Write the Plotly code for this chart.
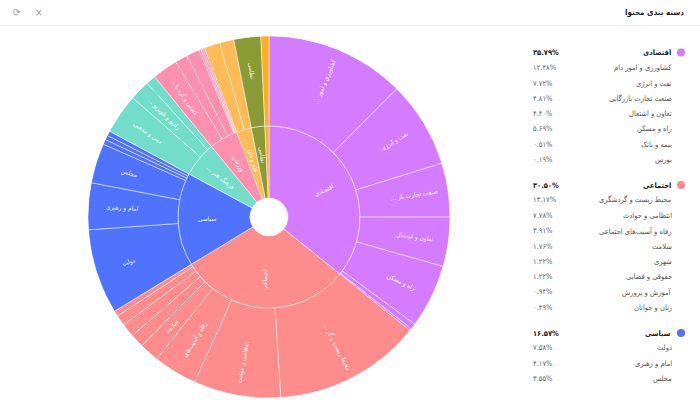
import math
import plotly.graph_objects as go

group_names = ["اقتصادی", "اجتماعی", "سیاسی", "فرهنگ هنر ...", "ورزشی", "علم و دان ...", "نظامی", ""]
group_values = [35.79, 30.50, 16.57, 6.25, 5.10, 2.67, 2.40, 0.72]
group_colors = ["#D37CFF", "#FF8C8C", "#5073FF", "#72DDC8", "#FF8FAE", "#FFBB55", "#8A9A35", "#FBB024"]

leaf_names = [
    ["کشاورزی و امور ...", "نفت و انرژی", "صنعت تجارت باز ...", "تعاون و اشتغال", "راه و مسکن", "", ""],
    ["محیط زیست و گر ...", "انتظامی و حوادث", "رفاه و آسیب‌های ...", "سلامت", "", "", "", ""],
    ["دولت", "امام و رهبری", "مجلس", "", "", ""],
    ["دینی و مذهبی", "رادیو و تلویزیو ...", ""],
    ["کشتی و کره پا ...", "", "", "", "", ""],
    ["", ""],
    ["نظامی"],
    [""],
]
leaf_values = [
    [12.48, 7.72, 4.81, 4.40, 5.69, 0.51, 0.19],
    [13.17, 7.78, 3.91, 1.76, 1.22, 1.22, 0.94, 0.49],
    [7.58, 4.17, 3.55, 0.45, 0.40, 0.42],
    [3.58, 1.80, 0.87],
    [2.28, 1.11, 1.19, 0.18, 0.17, 0.17],
    [1.40, 1.27],
    [2.40],
    [0.72],
]

panel_groups = [
    ("اقتصادی", 35.79, "#D37CFF",
     ["کشاورزی و امور دام", "نفت و انرژی", "صنعت تجارت بازرگانی", "تعاون و اشتغال", "راه و مسکن", "بیمه و بانک", "بورس"],
     [12.48, 7.72, 4.81, 4.40, 5.69, 0.51, 0.19], 52.5),
    ("اجتماعی", 30.50, "#FF8C8C",
     ["محیط زیست و گردشگری", "انتظامی و حوادث", "رفاه و آسیب‌های اجتماعی", "سلامت", "شهری", "حقوقی و قضایی", "آموزش و پرورش", "زنان و جوانان"],
     [13.17, 7.78, 3.91, 1.76, 1.22, 1.22, 0.94, 0.49], 185),
    ("سیاسی", 16.57, "#5073FF",
     ["دولت", "امام و رهبری", "مجلس"],
     [7.58, 4.17, 3.55], 333),
]
row_step = 15.25
title_text = "دسته بندی محتوا"

W, H = 700, 400
CX, CY, R = 269, 217, 181
HOLE, MID = 19 / R, 91 / R
FONT = "DejaVu Sans Condensed, DejaVu Sans"


def fa(v):
    return f"{v:.2f}%".translate(str.maketrans("0123456789", "۰۱۲۳۴۵۶۷۸۹"))


def px(x):
    return x / W


def py(y):
    return 1 - y / H


def text_ann(x, y, text, size, color, anchor="center", angle=0, bold=False):
    return dict(xref="paper", yref="paper", x=px(x), y=py(y), text=f"<b>{text}</b>" if bold else text,
                showarrow=False, xanchor=anchor, yanchor="middle", textangle=angle,
                font=dict(family=FONT, size=size, color=color))


def radial_ann(theta, radius, text, size=6.5):
    rad = math.radians(theta)
    x = CX + radius * math.sin(rad)
    y = CY - radius * math.cos(rad)
    angle = theta - 90 if theta < 180 else theta - 270
    return text_ann(x, y, text + "\u200f", size, "rgba(255,255,255,0.95)", angle=angle)


annotations = []
inner_theta, inner_width, inner_color = [], [], []
outer_theta, outer_width, outer_color = [], [], []
cursor = 0.0
for name, total, color, leaves, values in zip(group_names, group_values, group_colors, leaf_names, leaf_values):
    w = total * 3.6
    inner_theta.append(cursor + w / 2)
    inner_width.append(w)
    inner_color.append(color)
    if name:
        annotations.append(radial_ann(cursor + w / 2, 62, name))
    sub = cursor
    for leaf, value in zip(leaves, values):
        lw = value * 3.6
        outer_theta.append(sub + lw / 2)
        outer_width.append(lw)
        outer_color.append(color)
        if leaf:
            annotations.append(radial_ann(sub + lw / 2, 147, leaf))
        sub += lw
    cursor += w

fig = go.Figure()
fig.add_trace(go.Barpolar(theta=inner_theta, width=inner_width, base=HOLE, r=[MID - HOLE] * len(inner_theta),
                          marker=dict(color=inner_color, line=dict(color="rgba(255,255,255,0.8)", width=0.6)),
                          showlegend=False, hoverinfo="skip"))
fig.add_trace(go.Barpolar(theta=outer_theta, width=outer_width, base=MID, r=[1 - MID] * len(outer_theta),
                          marker=dict(color=outer_color, line=dict(color="rgba(255,255,255,0.8)", width=0.6)),
                          showlegend=False, hoverinfo="skip"))

shapes = [dict(type="line", xref="paper", yref="paper", x0=0, x1=1, y0=py(25.5), y1=py(25.5),
               line=dict(color="#EEEEEE", width=1))]
for gname, gval, gcolor, names, vals, y0 in panel_groups:
    shapes.append(dict(type="circle", xref="paper", yref="paper", x0=px(677), x1=px(685),
                       y0=py(y0 - 4), y1=py(y0 + 4), fillcolor=gcolor, line=dict(width=0)))
    annotations.append(text_ann(673, y0, gname, 7.5, "#222222", "right", bold=True))
    annotations.append(text_ann(531, y0, fa(gval), 7.5, "#222222", "left", bold=True))
    for i, (n, v) in enumerate(zip(names, vals), start=1):
        y = y0 + i * row_step - (0.5 if i == 1 else 0)
        annotations.append(text_ann(674, y, n, 7.5, "#555555", "right"))
        annotations.append(text_ann(531, y, fa(v), 7.5, "#666666", "left"))

annotations.append(text_ann(686, 13, title_text, 8, "#222222", "right", bold=True))
annotations.append(text_ann(38.5, 12.5, "×", 10, "#999999"))
annotations.append(text_ann(17, 12.5, "⟳", 10, "#999999"))

fig.update_layout(
    width=W, height=H, margin=dict(l=0, r=0, t=0, b=0),
    paper_bgcolor="white", plot_bgcolor="white", showlegend=False,
    polar=dict(
        domain=dict(x=[px(CX - R), px(CX + R)], y=[py(CY + R), py(CY - R)]),
        bgcolor="white", barmode="overlay",
        radialaxis=dict(visible=False, range=[0, 1]),
        angularaxis=dict(visible=False, direction="clockwise", rotation=90),
    ),
    annotations=annotations, shapes=shapes,
)
fig.write_html("out.html", config={"displayModeBar": False, "responsive": False},
               post_script="document.body.style.margin='0';document.body.style.overflow='hidden';")
